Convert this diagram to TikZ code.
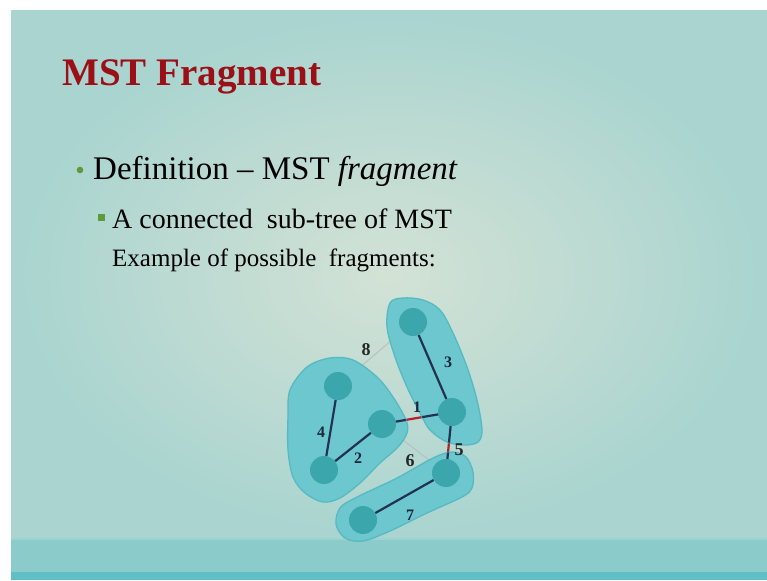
\documentclass[tikz,border=0pt]{standalone}
\usepackage{fontspec}
\setmainfont{Liberation Serif}
\begin{document}
\begin{tikzpicture}[x=1pt,y=-1pt,
  vertex/.style={circle,fill=nodeteal,minimum size=28pt,inner sep=0pt},
  treeedge/.style={draw=edgenavy,line width=2.2pt},
  lightedge/.style={draw=lightgray,line width=1.1pt},
  hotedge/.style={draw=edgered,line width=2.2pt},
  blob/.style={fill=blobteal,draw=blobrim,line width=1.3pt},
  wlabel/.style={font=\fontsize{18}{18}\selectfont\bfseries,text=black!85,inner sep=0pt},
  wlabelin/.style={font=\fontsize{16}{16}\selectfont\bfseries,text=edgenavy!80!black,inner sep=0pt}]
\definecolor{bgedge}{HTML}{A9D4D0}
\definecolor{bgmid}{HTML}{D3E2D5}
\definecolor{titlered}{HTML}{9B0F17}
\definecolor{bulletgreen}{HTML}{5E9A3A}
\definecolor{blobteal}{HTML}{6CC7CE}
\definecolor{blobrim}{HTML}{55BAC2}
\definecolor{nodeteal}{HTML}{3BA6AC}
\definecolor{edgenavy}{HTML}{22324F}
\definecolor{edgered}{HTML}{B3202A}
\definecolor{lightgray}{HTML}{BAC2BC}
\definecolor{bandteal}{HTML}{8BCBC9}
\definecolor{bandteal2}{HTML}{60BFC6}

\useasboundingbox (0,0) rectangle (767,580);
\fill[white] (0,0) rectangle (767,580);
% slide background
\shade[inner color=bgmid,outer color=bgedge] (11,11) rectangle (767,540);
\fill[bandteal] (11,538) rectangle (767,572);
\fill[bandteal!85!white] (11,538) rectangle (767,540);
\fill[bandteal2] (11,572) rectangle (767,580);

% title and text
\node[anchor=base west,inner sep=0pt,text=titlered,font=\fontsize{39}{39}\selectfont\bfseries] (title) at (62,86) {MST Fragment};
\fill[bulletgreen] (80,170) circle (3.3);
\node[anchor=base west,inner sep=0pt,font=\fontsize{33}{33}\selectfont] (def) at (93,179) {Definition -- MST \textit{fragment}};
\fill[bulletgreen] (98,214) rectangle (105,221);
\node[anchor=base west,inner sep=0pt,font=\fontsize{28}{28}\selectfont] (sub) at (112,228) {A connected\ \ sub-tree of MST};
\node[anchor=base west,inner sep=0pt,font=\fontsize{25}{25}\selectfont] (ex) at (112,266) {Example of possible\ \ fragments:};

% vertex positions
\coordinate (pA) at (413,322);
\coordinate (pB) at (452,412);
\coordinate (pC) at (338,386);
\coordinate (pD) at (382,424);
\coordinate (pE) at (324,470);
\coordinate (pF) at (446,473);
\coordinate (pG) at (363,520);

% edges between fragments (under the fragment shapes)
\draw[lightedge] (pC) -- (pA);
\draw[lightedge] (pD) -- (pF);
\draw[hotedge] (pD) -- (pB);
\draw[hotedge] (pB) -- (pF);

% fragment outlines
\def\fragCDE{(290,390) (307,367) (330,358) (353,360) (377,377) (393,397) (406,420) (407,433) (398,447) (380,463) (360,483) (340,498) (323,502) (305,493) (293,477) (288,450) (288,417)}
\def\fragAB{(390,303) (403,298) (423,300) (440,310) (453,333) (467,367) (477,400) (482,430) (478,442) (465,445) (447,442) (430,430) (420,413) (407,387) (395,357) (387,327)}
\def\fragFG{(340,508) (355,498) (397,478) (433,458) (452,452) (466,457) (473,472) (472,488) (462,497) (427,513) (390,531) (363,541) (345,538) (336,524)}
\path[blob] plot[smooth cycle,tension=0.55] coordinates {\fragCDE};
\path[blob] plot[smooth cycle,tension=0.55] coordinates {\fragAB};
\path[blob] plot[smooth cycle,tension=0.55] coordinates {\fragFG};

% joining edges stay dark inside the fragments
\begin{scope}
  \clip plot[smooth cycle,tension=0.55] coordinates {\fragCDE};
  \draw[treeedge] (pD) -- (pB);
\end{scope}
\begin{scope}
  \clip plot[smooth cycle,tension=0.55] coordinates {\fragAB};
  \draw[treeedge] (pD) -- (pB);
  \draw[treeedge] (pB) -- (pF);
\end{scope}
\begin{scope}
  \clip plot[smooth cycle,tension=0.55] coordinates {\fragFG};
  \draw[treeedge] (pB) -- (pF);
\end{scope}

% vertices
\node[vertex] (A) at (pA) {};
\node[vertex] (B) at (pB) {};
\node[vertex] (C) at (pC) {};
\node[vertex] (D) at (pD) {};
\node[vertex] (E) at (pE) {};
\node[vertex] (F) at (pF) {};
\node[vertex] (G) at (pG) {};

% fragment tree edges
\draw[treeedge] (A) -- (B);
\draw[treeedge] (C) -- (E);
\draw[treeedge] (E) -- (D);
\draw[treeedge] (F) -- (G);

% weights
\node[wlabel] (w8) at (366,350) {8};
\node[wlabelin] (w3) at (448,362) {3};
\node[wlabelin] (w4) at (321,432) {4};
\node[wlabelin] (w1) at (417,407) {1};
\node[wlabelin] (w2) at (358,458) {2};
\node[wlabel] (w6) at (410,461) {6};
\node[wlabel] (w5) at (459,450) {5};
\node[wlabelin] (w7) at (410,515) {7};
\end{tikzpicture}
\end{document}
